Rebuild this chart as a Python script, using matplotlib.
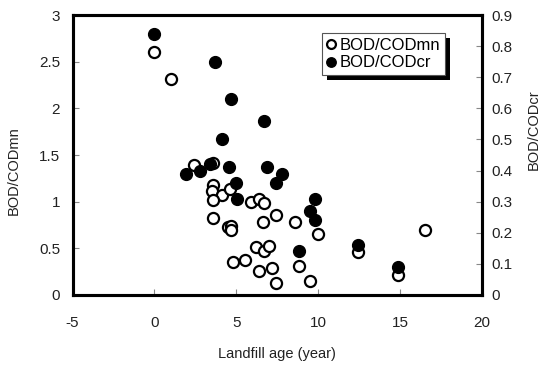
import matplotlib
matplotlib.use("Agg")
import matplotlib.pyplot as plt
from matplotlib.patches import Rectangle

plt.rcParams['font.family'] = ['Liberation Sans', 'DejaVu Sans']
plt.rcParams['axes.unicode_minus'] = False

# BOD/CODmn (left axis, open circles)
age_mn = [0, 1.0, 2.4, 3.6, 3.6, 3.5, 4.1, 3.6, 4.6, 5.9, 6.4, 6.7, 7.4, 6.6,
          8.6, 10.0, 3.6, 4.5, 4.7, 4.7, 4.8, 5.5, 6.2, 6.7, 7.0, 6.4, 7.2,
          7.4, 8.8, 9.5, 12.4, 14.9, 16.5]
bod_mn = [2.6, 2.31, 1.39, 1.41, 1.18, 1.11, 1.07, 1.02, 1.14, 1.0, 1.03, 0.99,
          0.86, 0.78, 0.78, 0.65, 0.82, 0.73, 0.74, 0.70, 0.35, 0.38, 0.51,
          0.47, 0.53, 0.26, 0.29, 0.13, 0.31, 0.15, 0.46, 0.21, 0.70]

# BOD/CODcr (right axis, filled circles)
age_cr = [0, 3.7, 4.7, 6.7, 4.1, 1.9, 2.8, 3.4, 4.55, 5.0, 5.05, 6.9, 7.8, 7.4,
          9.8, 9.5, 9.8, 8.85, 12.4, 14.9]
bod_cr = [0.84, 0.75, 0.63, 0.56, 0.50, 0.39, 0.40, 0.42, 0.41, 0.36, 0.31,
          0.41, 0.39, 0.36, 0.31, 0.27, 0.24, 0.14, 0.16, 0.09]

xticks = [-5, 0, 5, 10, 15, 20]
yticks_left = [0, 0.5, 1, 1.5, 2, 2.5, 3]
yticks_right = [0, 0.1, 0.2, 0.3, 0.4, 0.5, 0.6, 0.7, 0.8, 0.9]

txt = '#222222'
fig = plt.figure(figsize=(5.42, 3.65), dpi=100)
ax = fig.add_axes([0.1338, 0.1918, 0.7555, 0.767])
ax2 = ax.twinx()

ax.plot(age_mn, bod_mn, 'o', ms=8, mfc='white', mec='black', mew=1.6,
        label='BOD/CODmn', zorder=3)
ax2.plot(age_cr, bod_cr, 'o', ms=8.5, mfc='black', mec='black', mew=1,
         label='BOD/CODcr', zorder=3)

ax.set_xlim(-5, 20)
ax.set_ylim(0, 3)
ax2.set_ylim(0, 0.9)
ax.set_xticks(xticks)
ax.set_yticks(yticks_left)
ax.set_yticklabels(['0', '0.5', '1', '1.5', '2', '2.5', '3'])
ax2.set_yticks(yticks_right)
ax2.set_yticklabels(['0', '0.1', '0.2', '0.3', '0.4', '0.5', '0.6', '0.7', '0.8', '0.9'])

for a in (ax, ax2):
    for s in a.spines.values():
        s.set_linewidth(2.2)
    a.tick_params(direction='in', length=4, width=0.8, colors='#888888',
                  labelcolor=txt, labelsize=11)
ax.tick_params(axis='x', pad=15)
ax.tick_params(axis='y', pad=9)
ax2.tick_params(axis='y', pad=7)

ax.set_xlabel('Landfill age (year)', fontsize=10.5, color=txt)
ax.xaxis.set_label_coords(0.5, -0.185)
ax.set_ylabel('BOD/CODmn', fontsize=10.5, color=txt)
ax.yaxis.set_label_coords(-0.126, 0.443)
ax2.set_ylabel('BOD/CODcr', fontsize=10.5, color=txt, rotation=90)
ax2.yaxis.set_label_coords(1.11, 0.589)

h1, l1 = ax.get_legend_handles_labels()
h2, l2 = ax2.get_legend_handles_labels()
leg = ax2.legend(h1 + h2, l1 + l2, loc='upper left', bbox_to_anchor=(0.609, 0.936),
                 borderaxespad=0, fancybox=False, framealpha=1, fontsize=12,
                 handlelength=0.5, handletextpad=0.25, borderpad=0.3,
                 labelspacing=0.15, markerscale=0.8)
leg.get_frame().set_edgecolor('#555555')
leg.get_frame().set_linewidth(0.8)
leg.set_zorder(10)

fig.canvas.draw()
bb = leg.get_window_extent()
shadow = Rectangle((bb.x0 + 5, bb.y0 - 5), bb.width, bb.height, transform=None,
                   facecolor='black', edgecolor='none', zorder=9)
ax2.add_artist(shadow)

fig.savefig('out.png', dpi=100)
